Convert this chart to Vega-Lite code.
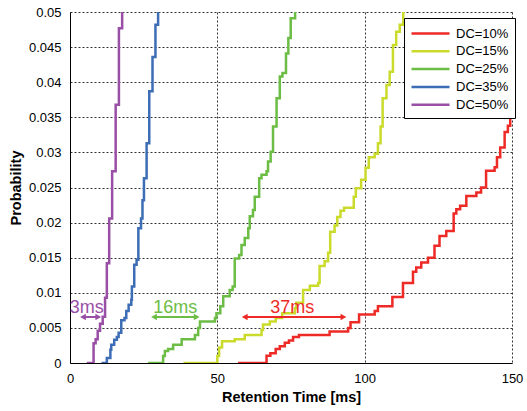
{
  "$schema": "https://vega.github.io/schema/vega-lite/v6.json",
  "width": 442,
  "height": 351,
  "autosize": {"type": "none"},
  "padding": {"left": 70, "top": 12, "right": 15, "bottom": 48},
  "background": "white",
  "config": {
    "font": "Liberation Sans",
    "view": {"stroke": null},
    "axis": {
      "domainColor": "#000",
      "domainWidth": 1,
      "gridColor": "#000",
      "gridDash": [2, 2],
      "gridOpacity": 0.8,
      "gridWidth": 1,
      "ticks": false,
      "labelFontSize": 13,
      "labelColor": "#000",
      "labelOverlap": false,
      "labelFlush": false,
      "titleFontSize": 14.5,
      "titleFontWeight": "bold",
      "titleColor": "#000"
    }
  },
  "datasets": {
    "curves": [
      {"series": "DC=50%", "x": 5.7, "y": 0},
      {"series": "DC=50%", "x": 8.0, "y": 0.0028},
      {"series": "DC=50%", "x": 8.7, "y": 0.0034},
      {"series": "DC=50%", "x": 9.4, "y": 0.0046},
      {"series": "DC=50%", "x": 10.2, "y": 0.0056},
      {"series": "DC=50%", "x": 11.1, "y": 0.0066},
      {"series": "DC=50%", "x": 11.9, "y": 0.0093},
      {"series": "DC=50%", "x": 12.5, "y": 0.0142},
      {"series": "DC=50%", "x": 13.3, "y": 0.0206},
      {"series": "DC=50%", "x": 14.3, "y": 0.0273},
      {"series": "DC=50%", "x": 15.5, "y": 0.0368},
      {"series": "DC=50%", "x": 16.6, "y": 0.0477},
      {"series": "DC=50%", "x": 17.7, "y": 0.0505},

      {"series": "DC=35%", "x": 10.7, "y": 0},
      {"series": "DC=35%", "x": 12.5, "y": 0.0007},
      {"series": "DC=35%", "x": 13.7, "y": 0.0019},
      {"series": "DC=35%", "x": 14.0, "y": 0.0026},
      {"series": "DC=35%", "x": 15.0, "y": 0.0033},
      {"series": "DC=35%", "x": 15.9, "y": 0.0037},
      {"series": "DC=35%", "x": 16.5, "y": 0.0043},
      {"series": "DC=35%", "x": 17.4, "y": 0.0061},
      {"series": "DC=35%", "x": 18.5, "y": 0.0064},
      {"series": "DC=35%", "x": 19.1, "y": 0.0074},
      {"series": "DC=35%", "x": 19.9, "y": 0.0083},
      {"series": "DC=35%", "x": 20.8, "y": 0.009},
      {"series": "DC=35%", "x": 21.0, "y": 0.0109},
      {"series": "DC=35%", "x": 21.8, "y": 0.014},
      {"series": "DC=35%", "x": 22.6, "y": 0.0147},
      {"series": "DC=35%", "x": 23.2, "y": 0.0192},
      {"series": "DC=35%", "x": 24.1, "y": 0.0206},
      {"series": "DC=35%", "x": 24.6, "y": 0.0232},
      {"series": "DC=35%", "x": 25.1, "y": 0.0263},
      {"series": "DC=35%", "x": 26.0, "y": 0.0313},
      {"series": "DC=35%", "x": 26.9, "y": 0.0387},
      {"series": "DC=35%", "x": 28.0, "y": 0.0436},
      {"series": "DC=35%", "x": 29.0, "y": 0.0482},
      {"series": "DC=35%", "x": 29.9, "y": 0.0505},

      {"series": "DC=25%", "x": 26.5, "y": 0},
      {"series": "DC=25%", "x": 31.6, "y": 0.001},
      {"series": "DC=25%", "x": 32.2, "y": 0.0017},
      {"series": "DC=25%", "x": 33.3, "y": 0.002},
      {"series": "DC=25%", "x": 35.0, "y": 0.0026},
      {"series": "DC=25%", "x": 37.9, "y": 0.0034},
      {"series": "DC=25%", "x": 42.4, "y": 0.004},
      {"series": "DC=25%", "x": 43.5, "y": 0.005},
      {"series": "DC=25%", "x": 44.1, "y": 0.0059},
      {"series": "DC=25%", "x": 49.2, "y": 0.0064},
      {"series": "DC=25%", "x": 49.7, "y": 0.0071},
      {"series": "DC=25%", "x": 51.0, "y": 0.0081},
      {"series": "DC=25%", "x": 52.0, "y": 0.0095},
      {"series": "DC=25%", "x": 54.2, "y": 0.0104},
      {"series": "DC=25%", "x": 55.2, "y": 0.0109},
      {"series": "DC=25%", "x": 55.9, "y": 0.0149},
      {"series": "DC=25%", "x": 57.4, "y": 0.0154},
      {"series": "DC=25%", "x": 58.2, "y": 0.0168},
      {"series": "DC=25%", "x": 59.3, "y": 0.0178},
      {"series": "DC=25%", "x": 60.5, "y": 0.0192},
      {"series": "DC=25%", "x": 61.0, "y": 0.0209},
      {"series": "DC=25%", "x": 62.1, "y": 0.0218},
      {"series": "DC=25%", "x": 62.7, "y": 0.0237},
      {"series": "DC=25%", "x": 64.2, "y": 0.0263},
      {"series": "DC=25%", "x": 65.0, "y": 0.0268},
      {"series": "DC=25%", "x": 66.7, "y": 0.0273},
      {"series": "DC=25%", "x": 67.2, "y": 0.0287},
      {"series": "DC=25%", "x": 68.1, "y": 0.0301},
      {"series": "DC=25%", "x": 68.9, "y": 0.0337},
      {"series": "DC=25%", "x": 70.1, "y": 0.0377},
      {"series": "DC=25%", "x": 71.2, "y": 0.0408},
      {"series": "DC=25%", "x": 72.1, "y": 0.0413},
      {"series": "DC=25%", "x": 73.3, "y": 0.0441},
      {"series": "DC=25%", "x": 74.1, "y": 0.0463},
      {"series": "DC=25%", "x": 74.9, "y": 0.0491},
      {"series": "DC=25%", "x": 76.4, "y": 0.0505},

      {"series": "DC=15%", "x": 38.5, "y": 0},
      {"series": "DC=15%", "x": 50.0, "y": 0.001},
      {"series": "DC=15%", "x": 50.6, "y": 0.0022},
      {"series": "DC=15%", "x": 51.6, "y": 0.0031},
      {"series": "DC=15%", "x": 55.9, "y": 0.0034},
      {"series": "DC=15%", "x": 59.3, "y": 0.004},
      {"series": "DC=15%", "x": 65.0, "y": 0.0047},
      {"series": "DC=15%", "x": 65.5, "y": 0.0055},
      {"series": "DC=15%", "x": 67.8, "y": 0.0059},
      {"series": "DC=15%", "x": 69.8, "y": 0.0064},
      {"series": "DC=15%", "x": 72.0, "y": 0.0071},
      {"series": "DC=15%", "x": 76.3, "y": 0.0078},
      {"series": "DC=15%", "x": 76.8, "y": 0.0086},
      {"series": "DC=15%", "x": 79.1, "y": 0.0104},
      {"series": "DC=15%", "x": 81.4, "y": 0.011},
      {"series": "DC=15%", "x": 84.2, "y": 0.0114},
      {"series": "DC=15%", "x": 84.7, "y": 0.0138},
      {"series": "DC=15%", "x": 86.4, "y": 0.0145},
      {"series": "DC=15%", "x": 87.6, "y": 0.0157},
      {"series": "DC=15%", "x": 88.3, "y": 0.0187},
      {"series": "DC=15%", "x": 89.8, "y": 0.0196},
      {"series": "DC=15%", "x": 90.7, "y": 0.0208},
      {"series": "DC=15%", "x": 91.8, "y": 0.0217},
      {"series": "DC=15%", "x": 93.0, "y": 0.0221},
      {"series": "DC=15%", "x": 96.3, "y": 0.0237},
      {"series": "DC=15%", "x": 97.0, "y": 0.0249},
      {"series": "DC=15%", "x": 98.8, "y": 0.0261},
      {"series": "DC=15%", "x": 100.3, "y": 0.0278},
      {"series": "DC=15%", "x": 101.4, "y": 0.0293},
      {"series": "DC=15%", "x": 103.4, "y": 0.0298},
      {"series": "DC=15%", "x": 104.5, "y": 0.0313},
      {"series": "DC=15%", "x": 105.4, "y": 0.0337},
      {"series": "DC=15%", "x": 106.1, "y": 0.0377},
      {"series": "DC=15%", "x": 107.4, "y": 0.0396},
      {"series": "DC=15%", "x": 108.5, "y": 0.0415},
      {"series": "DC=15%", "x": 109.6, "y": 0.0453},
      {"series": "DC=15%", "x": 110.7, "y": 0.0472},
      {"series": "DC=15%", "x": 111.9, "y": 0.0482},
      {"series": "DC=15%", "x": 113.1, "y": 0.0505},

      {"series": "DC=10%", "x": 57.0, "y": 0},
      {"series": "DC=10%", "x": 66.7, "y": 0.00105},
      {"series": "DC=10%", "x": 68.0, "y": 0.0014},
      {"series": "DC=10%", "x": 69.8, "y": 0.002},
      {"series": "DC=10%", "x": 71.2, "y": 0.0024},
      {"series": "DC=10%", "x": 72.9, "y": 0.0029},
      {"series": "DC=10%", "x": 74.3, "y": 0.0032},
      {"series": "DC=10%", "x": 75.7, "y": 0.0037},
      {"series": "DC=10%", "x": 77.7, "y": 0.004},
      {"series": "DC=10%", "x": 88.1, "y": 0.0045},
      {"series": "DC=10%", "x": 94.4, "y": 0.005},
      {"series": "DC=10%", "x": 95.2, "y": 0.0058},
      {"series": "DC=10%", "x": 98.1, "y": 0.0069},
      {"series": "DC=10%", "x": 103.4, "y": 0.0074},
      {"series": "DC=10%", "x": 104.5, "y": 0.0081},
      {"series": "DC=10%", "x": 109.4, "y": 0.0094},
      {"series": "DC=10%", "x": 113.0, "y": 0.0114},
      {"series": "DC=10%", "x": 116.4, "y": 0.013},
      {"series": "DC=10%", "x": 117.5, "y": 0.0136},
      {"series": "DC=10%", "x": 119.2, "y": 0.0143},
      {"series": "DC=10%", "x": 121.5, "y": 0.015},
      {"series": "DC=10%", "x": 123.7, "y": 0.0167},
      {"series": "DC=10%", "x": 125.4, "y": 0.0181},
      {"series": "DC=10%", "x": 127.7, "y": 0.0188},
      {"series": "DC=10%", "x": 130.2, "y": 0.0213},
      {"series": "DC=10%", "x": 131.1, "y": 0.0219},
      {"series": "DC=10%", "x": 132.4, "y": 0.0224},
      {"series": "DC=10%", "x": 134.5, "y": 0.0238},
      {"series": "DC=10%", "x": 137.9, "y": 0.0243},
      {"series": "DC=10%", "x": 139.5, "y": 0.025},
      {"series": "DC=10%", "x": 141.2, "y": 0.0274},
      {"series": "DC=10%", "x": 144.1, "y": 0.0279},
      {"series": "DC=10%", "x": 144.9, "y": 0.0293},
      {"series": "DC=10%", "x": 146.0, "y": 0.0307},
      {"series": "DC=10%", "x": 147.5, "y": 0.0329},
      {"series": "DC=10%", "x": 148.6, "y": 0.0338},
      {"series": "DC=10%", "x": 149.4, "y": 0.035},
      {"series": "DC=10%", "x": 150.0, "y": 0.0366}
    ],
    "spans": [
      {"series": "DC=50%", "label": "3ms", "x1": 4.4, "x2": 9.6, "y": 0.00655, "xt": 5.7, "yt": 0.0071},
      {"series": "DC=25%", "label": "16ms", "x1": 28.5, "x2": 43.0, "y": 0.00655, "xt": 35.7, "yt": 0.0071},
      {"series": "DC=10%", "label": "37ms", "x1": 59.3, "x2": 92.8, "y": 0.00655, "xt": 75.4, "yt": 0.0071}
    ]
  },
  "layer": [
    {
      "data": {"name": "curves"},
      "mark": {"type": "line", "interpolate": "step-after", "strokeWidth": 2.5, "clip": true},
      "encoding": {
        "x": {
          "field": "x", "type": "quantitative", "title": "Retention Time [ms]",
          "scale": {"domain": [0, 150], "nice": false, "zero": false},
          "axis": {"values": [0, 50, 100, 150], "labelPadding": 9, "titlePadding": 5, "grid": true}
        },
        "y": {
          "field": "y", "type": "quantitative", "title": "Probability",
          "scale": {"domain": [0, 0.05], "nice": false},
          "axis": {
            "values": [0, 0.005, 0.01, 0.015, 0.02, 0.025, 0.03, 0.035, 0.04, 0.045, 0.05],
            "format": ".3~f", "labelPadding": 9, "titlePadding": 5, "grid": true
          }
        },
        "color": {
          "field": "series", "type": "nominal",
          "scale": {
            "domain": ["DC=10%", "DC=15%", "DC=25%", "DC=35%", "DC=50%"],
            "range": ["#ED2A26", "#CADB2C", "#6CBD45", "#3D6DB5", "#9A4FA6"]
          },
          "legend": {
            "title": null, "orient": "none", "legendX": 334, "legendY": 6,
            "symbolType": "M-1,0H3.75", "symbolSize": 256, "symbolStrokeWidth": 2.5,
            "labelFontSize": 13, "labelColor": "#000", "labelOffset": 27,
            "fillColor": "white", "strokeColor": "#000", "padding": 6, "rowPadding": 0.8
          }
        },
        "detail": {"field": "series"}
      }
    },
    {
      "data": {"name": "spans"},
      "mark": {"type": "rule", "strokeWidth": 2},
      "encoding": {
        "x": {"field": "x1", "type": "quantitative", "title": "Retention Time [ms]",
          "axis": {"values": [0, 50, 100, 150], "labelPadding": 9, "titlePadding": 5, "grid": true}},
        "x2": {"field": "x2"},
        "y": {"field": "y", "type": "quantitative", "title": "Probability",
          "axis": {
            "values": [0, 0.005, 0.01, 0.015, 0.02, 0.025, 0.03, 0.035, 0.04, 0.045, 0.05],
            "format": ".3~f", "labelPadding": 9, "titlePadding": 5, "grid": true
          }},
        "color": {"field": "series", "type": "nominal", "legend": null}
      }
    },
    {
      "data": {"name": "spans"},
      "mark": {"type": "point", "shape": "triangle-left", "filled": true, "opacity": 1, "size": 45},
      "encoding": {
        "x": {"field": "x1", "type": "quantitative", "title": "Retention Time [ms]",
          "axis": {"values": [0, 50, 100, 150], "labelPadding": 9, "titlePadding": 5, "grid": true}},
        "y": {"field": "y", "type": "quantitative", "title": "Probability",
          "axis": {
            "values": [0, 0.005, 0.01, 0.015, 0.02, 0.025, 0.03, 0.035, 0.04, 0.045, 0.05],
            "format": ".3~f", "labelPadding": 9, "titlePadding": 5, "grid": true
          }},
        "color": {"field": "series", "type": "nominal", "legend": null}
      }
    },
    {
      "data": {"name": "spans"},
      "mark": {"type": "point", "shape": "triangle-right", "filled": true, "opacity": 1, "size": 45},
      "encoding": {
        "x": {"field": "x2", "type": "quantitative", "title": "Retention Time [ms]",
          "axis": {"values": [0, 50, 100, 150], "labelPadding": 9, "titlePadding": 5, "grid": true}},
        "y": {"field": "y", "type": "quantitative", "title": "Probability",
          "axis": {
            "values": [0, 0.005, 0.01, 0.015, 0.02, 0.025, 0.03, 0.035, 0.04, 0.045, 0.05],
            "format": ".3~f", "labelPadding": 9, "titlePadding": 5, "grid": true
          }},
        "color": {"field": "series", "type": "nominal", "legend": null}
      }
    },
    {
      "data": {"name": "spans"},
      "mark": {"type": "text", "fontSize": 18, "align": "center", "baseline": "alphabetic"},
      "encoding": {
        "x": {"field": "xt", "type": "quantitative", "title": "Retention Time [ms]",
          "axis": {"values": [0, 50, 100, 150], "labelPadding": 9, "titlePadding": 5, "grid": true}},
        "y": {"field": "yt", "type": "quantitative", "title": "Probability",
          "axis": {
            "values": [0, 0.005, 0.01, 0.015, 0.02, 0.025, 0.03, 0.035, 0.04, 0.045, 0.05],
            "format": ".3~f", "labelPadding": 9, "titlePadding": 5, "grid": true
          }},
        "text": {"field": "label"},
        "color": {"field": "series", "type": "nominal", "legend": null}
      }
    }
  ]
}
